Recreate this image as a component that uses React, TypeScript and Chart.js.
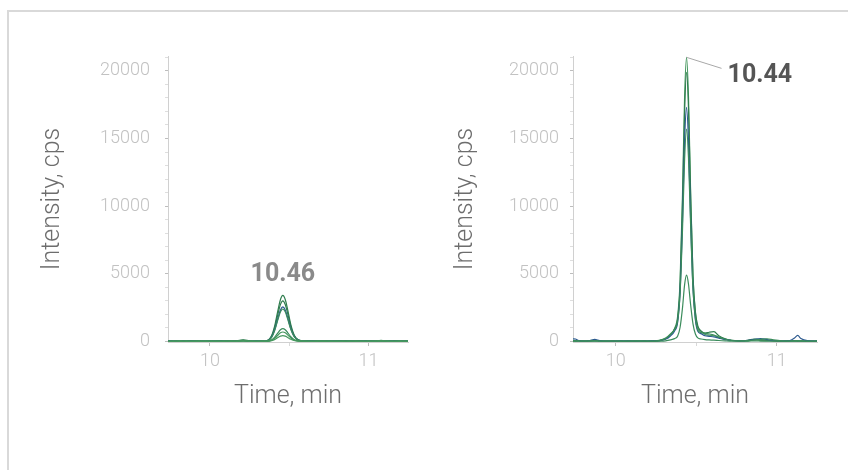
import { useEffect, useRef } from 'react';
import { Chart, registerables } from 'chart.js';

Chart.register(...registerables);

// ---- Left panel: extracted ion chromatograms, peak near 10.46 min ----
const LEFT_TIMES = [
  9.735, 9.77, 9.81, 9.85, 9.89, 9.93, 9.97, 10.01, 10.05, 10.09, 10.13, 10.17, 10.21, 10.25, 10.29, 10.33,
  10.36, 10.39, 10.41, 10.43, 10.445, 10.46, 10.475, 10.49, 10.51, 10.53, 10.56,
  10.6, 10.64, 10.68, 10.72, 10.76, 10.8, 10.84, 10.88, 10.92, 10.96, 11.0, 11.04, 11.08, 11.12, 11.16, 11.2, 11.25,
];
const LEFT_A = [
  30, 50, 20, 40, 60, 30, 20, 40, 30, 50, 40, 60, 120, 50, 30, 40,
  60, 460, 1230, 2360, 3100, 3400, 3100, 2380, 1260, 520, 110,
  60, 40, 30, 50, 30, 40, 60, 40, 30, 50, 40, 30, 70, 40, 60, 50, 30,
];
const LEFT_B = [
  20, 40, 30, 20, 50, 40, 30, 20, 50, 30, 20, 40, 90, 40, 20, 30,
  50, 400, 1080, 2080, 2740, 3000, 2730, 2100, 1110, 460, 100,
  50, 30, 40, 20, 40, 30, 50, 30, 40, 20, 30, 50, 60, 30, 40, 30, 20,
];
const LEFT_C = [
  40, 20, 30, 50, 30, 20, 40, 30, 20, 40, 30, 20, 70, 30, 40, 20,
  45, 345, 920, 1770, 2330, 2550, 2320, 1780, 950, 400, 90,
  40, 50, 20, 30, 40, 20, 30, 50, 20, 30, 40, 20, 50, 40, 30, 20, 40,
];
const LEFT_D = [
  10, 30, 40, 20, 30, 50, 20, 30, 40, 20, 50, 30, 80, 30, 20, 30,
  40, 320, 870, 1660, 2190, 2400, 2190, 1670, 890, 380, 80,
  30, 20, 50, 30, 20, 40, 30, 20, 50, 40, 20, 30, 80, 30, 20, 40, 30,
];
const LEFT_E = [
  20, 10, 20, 30, 20, 10, 30, 20, 10, 20, 30, 20, 50, 20, 10, 20,
  20, 130, 340, 660, 870, 950, 870, 660, 350, 150, 40,
  30, 20, 10, 30, 20, 10, 20, 30, 20, 10, 20, 30, 40, 20, 10, 20, 30,
];
const LEFT_F = [
  10, 20, 10, 20, 10, 20, 10, 20, 10, 20, 10, 20, 40, 20, 10, 20,
  15, 95, 250, 480, 640, 700, 640, 490, 260, 110, 30,
  20, 10, 20, 10, 20, 10, 20, 10, 20, 10, 20, 10, 30, 20, 10, 20, 10,
];
const LEFT_G = [
  0, 10, 20, 10, 0, 10, 20, 10, 0, 10, 20, 10, 30, 10, 0, 10,
  10, 60, 155, 300, 390, 430, 395, 300, 160, 70, 20,
  10, 0, 10, 20, 10, 0, 10, 20, 10, 0, 10, 20, 30, 10, 0, 10, 20,
];
const LEFT_PEAK_RT = 10.46;

// ---- Right panel: same transitions, peak near 10.44 min ----
const RIGHT_TIMES = [
  9.735, 9.75, 9.77, 9.8, 9.84, 9.87, 9.9, 9.94, 9.98, 10.03, 10.08, 10.13, 10.18, 10.23,
  10.27, 10.31, 10.34, 10.365, 10.385, 10.4, 10.415, 10.428, 10.44, 10.452, 10.465, 10.48, 10.495, 10.51,
  10.53, 10.555, 10.58, 10.61, 10.64, 10.68, 10.72,
  10.77, 10.82, 10.86, 10.9, 10.94, 10.98, 11.03, 11.08, 11.11, 11.13, 11.15, 11.19, 11.25,
];
const RIGHT_A = [
  80, 60, 40, 30, 60, 90, 50, 30, 40, 20, 30, 40, 30, 50,
  80, 250, 560, 950, 1900, 4500, 10900, 18100, 21000, 18100, 11200, 4800, 2100, 1000,
  740, 520, 460, 420, 300, 170, 90,
  60, 40, 120, 80, 60, 40, 30, 50, 60, 40, 30, 20, 40,
];
const RIGHT_B = [
  40, 30, 60, 40, 30, 50, 40, 20, 30, 40, 20, 30, 40, 30,
  60, 200, 480, 900, 1700, 4100, 10200, 17000, 19900, 17300, 10900, 4800, 2200, 1150,
  780, 620, 680, 720, 420, 200, 80,
  50, 90, 180, 140, 90, 40, 30, 40, 50, 30, 40, 30, 20,
];
const RIGHT_C = [
  200, 180, 60, 30, 70, 150, 60, 30, 20, 30, 40, 20, 30, 40,
  50, 160, 400, 760, 1450, 3700, 9000, 14900, 17300, 14800, 9100, 3900, 1600, 760,
  580, 420, 380, 340, 250, 140, 70,
  40, 80, 160, 220, 140, 70, 40, 60, 250, 450, 220, 60, 30,
];
const RIGHT_D = [
  30, 50, 40, 20, 40, 60, 30, 20, 40, 30, 20, 40, 20, 30,
  70, 220, 500, 860, 1550, 3600, 8300, 13500, 15700, 13600, 8700, 3900, 1700, 850,
  660, 600, 560, 480, 320, 160, 70,
  50, 60, 110, 160, 200, 120, 50, 30, 40, 60, 40, 30, 20,
];
const RIGHT_E = [
  20, 30, 20, 40, 20, 30, 20, 30, 20, 10, 20, 30, 20, 10,
  20, 50, 120, 210, 400, 1050, 2500, 4200, 4900, 4250, 2750, 1300, 550, 260,
  180, 130, 110, 100, 70, 40, 20,
  20, 30, 40, 30, 20, 30, 20, 30, 20, 30, 20, 10, 20,
];
const RIGHT_PEAK_RT = 10.44;

// ---- Axes ----
const X_MIN = 9.735;
const X_MAX = 11.25;
const X_TICKS = [10, 10.5, 11];
const Y_MIN = -40;
const Y_MAX = 21100;
const Y_TICKS = Array.from({ length: 22 }, (_, i) => i * 1000);

const GREEN = '#2f7d4e';
const GREEN_2 = '#3b8c5c';
const GREEN_3 = '#46985f';
const BLUE = '#2c5a8f';
const FONT = 'Roboto, "Noto Sans", sans-serif';
const TICK_COLOR = '#c2c2c2';
const TITLE_COLOR = '#6d6d6d';

const peakLabelPlugin = {
  id: 'peakLabel',
  afterDatasetsDraw(chart: any, _args: any, opts: any) {
    if (!opts || opts.time == null) return;
    const { ctx } = chart;
    const px = chart.scales.x.getPixelForValue(opts.time);
    const py = chart.scales.y.getPixelForValue(opts.value);
    const text = Number(opts.time).toFixed(2);
    ctx.save();
    ctx.font = `bold ${opts.size}px ${FONT}`;
    ctx.fillStyle = opts.color;
    ctx.textBaseline = 'middle';
    if (opts.leader) {
      const [dx, dy] = opts.leader;
      ctx.strokeStyle = opts.leaderColor;
      ctx.lineWidth = 1;
      ctx.beginPath();
      ctx.moveTo(px, py);
      ctx.lineTo(px + dx, py + dy);
      ctx.stroke();
      ctx.textAlign = 'left';
      ctx.fillText(text, px + dx + 6, py + dy + 7);
    } else {
      ctx.textAlign = 'center';
      ctx.fillText(text, px, py - opts.gap);
    }
    ctx.restore();
  },
};

type Series = { values: number[]; color: string };

type PanelProps = {
  times: number[];
  series: Series[];
  peakRt: number;
  label: any;
  left: number;
  rightPad: number;
  tickPad: number;
  yTitlePad: number;
};

function Panel({ times, series, peakRt, label, left, rightPad, tickPad, yTitlePad }: PanelProps) {
  const ref = useRef<HTMLCanvasElement>(null);

  useEffect(() => {
    const peakValue = Math.max(...series.map((s) => Math.max(...s.values)));
    const chart = new Chart(ref.current as HTMLCanvasElement, {
      type: 'line',
      data: {
        datasets: series.map((s) => ({
          data: s.values.map((v, i) => ({ x: times[i], y: v })),
          borderColor: s.color,
          borderWidth: 1.2,
          pointRadius: 0,
          fill: false,
          tension: 0.4,
          cubicInterpolationMode: 'monotone' as const,
        })),
      },
      options: {
        responsive: false,
        animation: false,
        events: [],
        layout: { padding: { top: 20, right: rightPad, bottom: 0, left: 0 } },
        plugins: {
          legend: { display: false },
          tooltip: { enabled: false },
          peakLabel: { time: peakRt, value: peakValue, ...label },
        } as any,
        scales: {
          x: {
            type: 'linear',
            min: X_MIN,
            max: X_MAX,
            afterBuildTicks: (s: any) => {
              s.ticks = X_TICKS.map((v) => ({ value: v }));
            },
            afterFit: (s: any) => {
              s.height = 94;
              s.paddingLeft = 0;
              s.paddingRight = 0;
            },
            ticks: {
              autoSkip: false,
              maxRotation: 0,
              padding: 5,
              color: TICK_COLOR,
              font: { family: FONT, size: 18, weight: '300' as any },
              callback: (v: any) => (Number.isInteger(v) ? String(v) : ''),
            },
            grid: {
              drawOnChartArea: false,
              drawTicks: true,
              tickLength: 4,
              color: (c: any) => (Number.isInteger(c.tick?.value) ? '#bdbdbd' : '#d8d8d8'),
            },
            border: { display: true, color: '#d0d0d0', width: 1 },
            title: {
              display: true,
              text: 'Time, min',
              color: TITLE_COLOR,
              font: { family: FONT, size: 25, weight: '300' as any },
              padding: { top: 0, bottom: 24 },
            },
          },
          y: {
            type: 'linear',
            min: Y_MIN,
            max: Y_MAX,
            afterBuildTicks: (s: any) => {
              s.ticks = Y_TICKS.map((v) => ({ value: v }));
            },
            afterFit: (s: any) => {
              s.width = 148;
              s.paddingTop = 0;
              s.paddingBottom = 0;
            },
            ticks: {
              autoSkip: false,
              padding: tickPad,
              color: TICK_COLOR,
              font: { family: FONT, size: 18, weight: '300' as any },
              callback: (v: any) => (v % 5000 === 0 ? String(v) : ''),
            },
            grid: {
              drawOnChartArea: false,
              drawTicks: true,
              tickLength: 3,
              color: (c: any) => (c.tick && c.tick.value % 5000 === 0 ? '#bdbdbd' : '#dedede'),
            },
            border: { display: true, color: '#d0d0d0', width: 1 },
            title: {
              display: true,
              text: 'Intensity, cps',
              color: TITLE_COLOR,
              font: { family: FONT, size: 25, weight: '300' as any },
              padding: { top: yTitlePad, bottom: 0 },
            },
          },
        },
      },
      plugins: [peakLabelPlugin as any],
    });
    return () => chart.destroy();
  }, []);

  return (
    <div style={{ position: 'absolute', left, top: 36, width: 400, height: 400 }}>
      <canvas ref={ref} width={400} height={400} style={{ width: 400, height: 400, display: 'block' }} />
    </div>
  );
}

export default function App() {
  const leftSeries: Series[] = [
    { values: LEFT_G, color: GREEN_3 },
    { values: LEFT_F, color: GREEN_3 },
    { values: LEFT_E, color: GREEN_2 },
    { values: LEFT_D, color: GREEN_2 },
    { values: LEFT_C, color: BLUE },
    { values: LEFT_B, color: GREEN },
    { values: LEFT_A, color: GREEN },
  ];
  const rightSeries: Series[] = [
    { values: RIGHT_E, color: GREEN_2 },
    { values: RIGHT_D, color: GREEN_2 },
    { values: RIGHT_C, color: BLUE },
    { values: RIGHT_B, color: GREEN },
    { values: RIGHT_A, color: GREEN_3 },
  ];

  return (
    <div style={{ position: 'fixed', left: 0, top: 0, width: 848, height: 470, overflow: 'hidden', background: '#fff' }}>
      <div
        style={{
          position: 'absolute',
          left: 7,
          top: 10,
          width: 900,
          height: 520,
          border: '2px solid #d9d9d9',
          boxSizing: 'border-box',
        }}
      />
      <Panel
        times={LEFT_TIMES}
        series={leftSeries}
        peakRt={LEFT_PEAK_RT}
        label={{ size: 25, color: '#8a8a8a', gap: 21 }}
        left={20}
        rightPad={12}
        tickPad={15}
        yTitlePad={18}
      />
      <Panel
        times={RIGHT_TIMES}
        series={rightSeries}
        peakRt={RIGHT_PEAK_RT}
        label={{ size: 25, color: '#555555', leader: [35, 11], leaderColor: '#a8a8a8' }}
        left={425}
        rightPad={8}
        tickPad={11}
        yTitlePad={26}
      />
    </div>
  );
}
